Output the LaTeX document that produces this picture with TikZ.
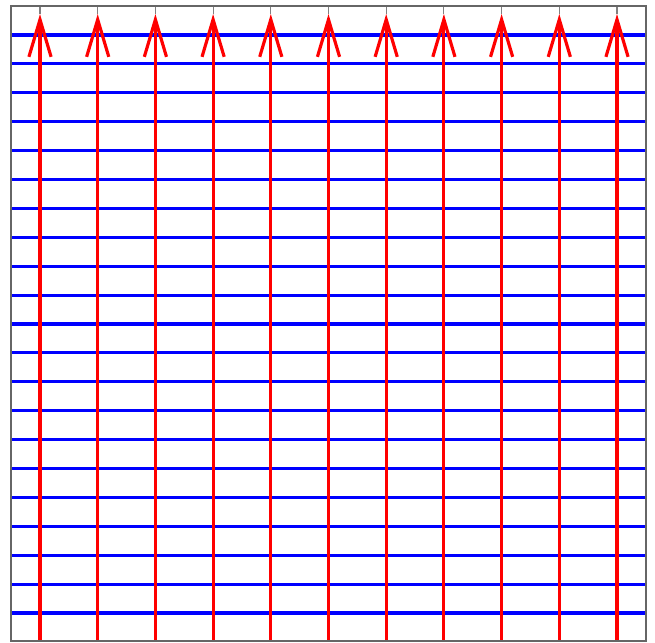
\documentclass[tikz,border=0pt]{standalone}
\usetikzlibrary{arrows.meta}
\begin{document}
\begin{tikzpicture}[x=.01cm,y=-.01cm, hline/.style={blue,line width=.9pt}, vline/.style={red,line width=.9pt,-{Straight Barb[length=10.6pt,width=6.3pt]}}]
\useasboundingbox (0,0) rectangle (655,642);
% horizontal field lines
\foreach \k in {0,...,20} {\coordinate (l\k) at (11,35+28.9*\k); \coordinate (r\k) at (646,35+28.9*\k);
  \draw[hline] (l\k) -- (r\k);}
% ticks and vertical arrows
\foreach \k in {0,...,10} {\coordinate (b\k) at (40+57.7*\k,641); \coordinate (t\k) at (40+57.7*\k,14);
  \draw[gray,line width=.3pt] (t\k) -- +(0,-8);
  \draw[vline] (b\k) -- (t\k);}
\draw[gray!80!black,line width=.4pt] (11,6) rectangle (646,641);
\end{tikzpicture}
\end{document}
